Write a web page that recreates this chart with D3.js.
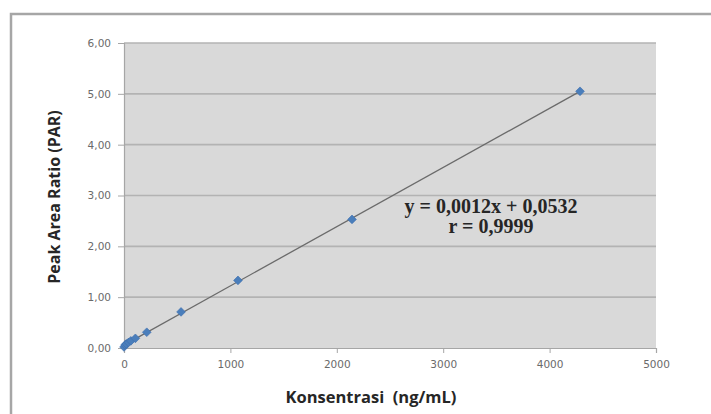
<!DOCTYPE html>
<html><head><meta charset="utf-8">
<script src="https://cdn.jsdelivr.net/npm/d3@7"></script>
<style>body{margin:0;background:#fff;} svg{display:block;}</style>
</head><body>
<svg id="c" width="711" height="414"></svg>
<script>
const concentrations = [0, 10.7, 21.4, 42.9, 64.3, 107, 214, 536, 1071, 2143, 4286];
const parValues      = [0.02, 0.06, 0.08, 0.11, 0.14, 0.19, 0.31, 0.71, 1.33, 2.53, 5.05];
const xTicks = [0, 1000, 2000, 3000, 4000, 5000];
const yTicks = [0, 1, 2, 3, 4, 5, 6];
const equationLines = ["y = 0,0012x + 0,0532", "r = 0,9999"];
const xTitle = "Konsentrasi\u00a0 (ng/mL)";
const yTitle = "Peak Area Ratio (PAR)";

const svg = d3.select("#c");
const L = 124, R = 656, T = 43, B = 348;
const x = d3.scaleLinear().domain([0, 5000]).range([L, R]);
const y = d3.scaleLinear().domain([0, 6]).range([B, T]);

// outer frame
svg.append("path").attr("d", "M11,416 L11,14 L715,14")
  .attr("fill", "none").attr("stroke", "#a6a6a6").attr("stroke-width", 2.5);

// plot area
svg.append("rect").attr("x", L).attr("y", T).attr("width", R - L).attr("height", B - T)
  .attr("fill", "#d9d9d9");

// gridlines
svg.append("g").selectAll("line").data(yTicks.filter(d => d > 0)).join("line")
  .attr("x1", L).attr("x2", R).attr("y1", d => y(d)).attr("y2", d => y(d))
  .attr("stroke", "#b3b3b3").attr("stroke-width", 1.6);

const fmt = d => d.toFixed(2).replace(".", ",");
const yAxis = svg.append("g").attr("transform", `translate(${L},0)`)
  .call(d3.axisLeft(y).tickValues(yTicks).tickFormat(fmt).tickSize(6).tickPadding(7));
const xAxis = svg.append("g").attr("transform", `translate(0,${B})`)
  .call(d3.axisBottom(x).tickValues(xTicks).tickFormat(d3.format("d")).tickSize(5).tickPadding(8));
[yAxis, xAxis].forEach(a => {
  a.select(".domain").attr("stroke", "#a6a6a6").attr("stroke-width", 1.2);
  a.selectAll(".tick line").attr("stroke", "#a6a6a6");
  a.selectAll("text").attr("fill", "#6a6a6a").style("font-family", "DejaVu Sans, sans-serif").style("font-size", "10.5px");
});

// trendline (least squares fit)
const mx = d3.mean(concentrations), my = d3.mean(parValues);
const slope = d3.sum(concentrations.map((c, i) => (c - mx) * (parValues[i] - my))) /
              d3.sum(concentrations.map(c => (c - mx) * (c - mx)));
const icpt = my - slope * mx;
const x0 = d3.min(concentrations), x1 = d3.max(concentrations);
svg.append("line").attr("x1", x(x0)).attr("y1", y(icpt + slope * x0))
  .attr("x2", x(x1)).attr("y2", y(icpt + slope * x1))
  .attr("stroke", "#6b6b6b").attr("stroke-width", 1.3);

// markers (Excel-style diamonds)
svg.append("g").selectAll("path").data(concentrations.map((c, i) => [c, parValues[i]])).join("path")
  .attr("transform", d => `translate(${x(d[0])},${y(d[1])}) rotate(45)`)
  .attr("d", d3.symbol(d3.symbolSquare, 38))
  .attr("fill", "#4a7ebb").attr("stroke", "#3d6fae").attr("stroke-width", 0.6);

// equation
svg.append("g").selectAll("text").data(equationLines).join("text")
  .attr("x", 491).attr("y", (d, i) => 213 + i * 20)
  .attr("text-anchor", "middle")
  .style("font-family", "Liberation Serif, Times New Roman, serif")
  .style("font-weight", "bold").style("font-size", "20px").attr("fill", "#262626")
  .text(d => d);

// axis titles
svg.append("text").attr("x", 371).attr("y", 403).attr("text-anchor", "middle")
  .style("font-family", "Open Sans, sans-serif").style("font-weight", "bold")
  .style("font-size", "16.5px").attr("fill", "#262626").text(xTitle);
svg.append("text").attr("transform", "translate(60,197) rotate(-90)").attr("text-anchor", "middle")
  .style("font-family", "Open Sans, sans-serif").style("font-weight", "bold")
  .style("font-size", "16px").attr("fill", "#262626").text(yTitle);
</script>
</body></html>
